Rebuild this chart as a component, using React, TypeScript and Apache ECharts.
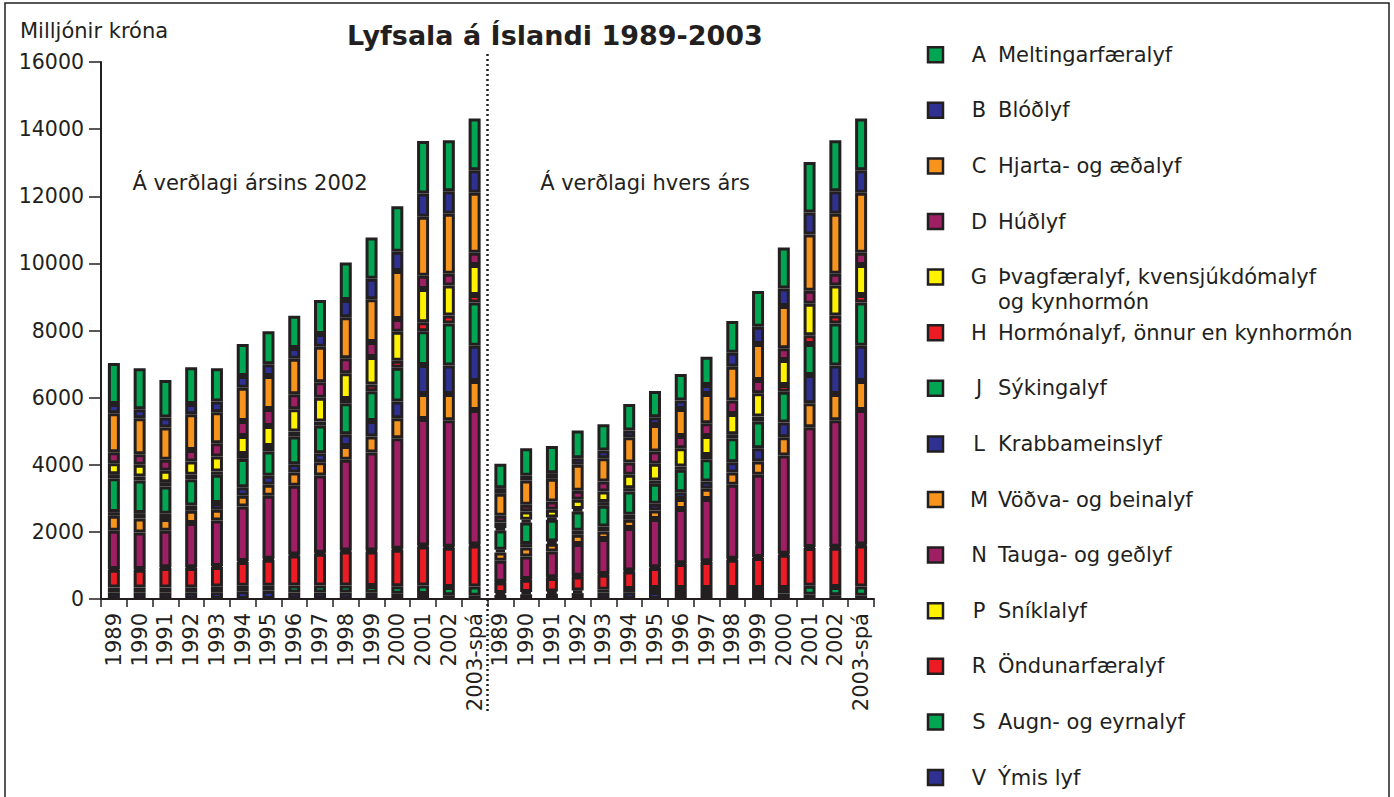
import React, { useEffect, useRef } from 'react';
import * as echarts from 'echarts';

// Categories: two groups of years (fixed 2002 prices, then current prices)
const years = ['1989', '1990', '1991', '1992', '1993', '1994', '1995', '1996', '1997', '1998', '1999', '2000', '2001', '2002', '2003-spá'];
const categories = [...years, ...years];

const yTicks = { min: 0, max: 16000, interval: 2000 };

// Series values (millions ISK), left group 15 values then right group 15 values
const A = [1218, 1221, 1121, 1092, 994, 950, 985, 960, 1012, 1122, 1230, 1360, 1565, 1517, 1539,
  724, 825, 812, 822, 785, 794, 783, 794, 842, 943, 1062, 1220, 1505, 1517, 1539];
const B = [277, 267, 298, 306, 316, 351, 349, 320, 377, 515, 611, 575, 697, 675, 675,
  169, 139, 170, 199, 227, 197, 229, 248, 268, 417, 515, 526, 656, 675, 675];
const C = [1160, 1072, 961, 1063, 922, 991, 982, 1059, 1060, 1220, 1275, 1428, 1756, 1785, 1781,
  655, 724, 675, 774, 696, 756, 794, 803, 872, 1011, 1071, 1259, 1678, 1785, 1781];
const D = [328, 318, 328, 348, 399, 446, 506, 447, 458, 446, 446, 378, 395, 354, 365,
  199, 199, 247, 268, 298, 366, 366, 366, 378, 396, 397, 348, 386, 354, 365];
const G = [327, 348, 336, 396, 447, 536, 595, 666, 714, 765, 823, 863, 991, 888, 899,
  167, 247, 230, 277, 315, 396, 497, 548, 566, 605, 696, 744, 936, 888, 899];
const H = [119, 119, 131, 128, 98, 149, 169, 149, 120, 128, 195, 208, 265, 240, 223,
  71, 80, 68, 71, 110, 101, 99, 98, 128, 119, 148, 200, 262, 240, 223];
const J = [1012, 971, 812, 785, 842, 842, 724, 821, 821, 923, 887, 1012, 1006, 1250, 1290,
  575, 643, 645, 574, 616, 693, 595, 664, 666, 714, 792, 922, 925, 1250, 1290];
const L = [110, 160, 158, 158, 199, 259, 267, 250, 268, 348, 467, 494, 863, 855, 1046,
  80, 101, 69, 119, 149, 149, 199, 208, 217, 309, 399, 435, 842, 855, 1046];
const M = [446, 417, 348, 366, 319, 318, 328, 396, 399, 416, 476, 596, 744, 780, 863,
  247, 268, 229, 277, 226, 247, 256, 298, 307, 366, 396, 547, 714, 780, 863];
const N = [1136, 1085, 1085, 1314, 1357, 1625, 1874, 2044, 2300, 2699, 2916, 3294, 3771, 3768, 4009,
  626, 674, 772, 944, 1038, 1267, 1433, 1611, 1850, 2202, 2449, 2926, 3571, 3768, 4009];
const P = [25, 25, 25, 25, 30, 30, 30, 30, 30, 30, 30, 30, 30, 30, 30,
  20, 20, 20, 20, 25, 25, 25, 25, 25, 30, 30, 30, 30, 30, 30];
const R = [532, 532, 583, 578, 577, 705, 774, 893, 943, 1012, 1027, 1087, 1165, 1170, 1220,
  315, 366, 399, 417, 446, 523, 596, 715, 774, 843, 893, 991, 1122, 1170, 1220];
const S = [153, 153, 153, 155, 175, 166, 149, 208, 208, 208, 205, 220, 250, 244, 277,
  60, 70, 70, 80, 90, 100, 120, 148, 148, 148, 148, 168, 268, 244, 277];
const V = [187, 187, 187, 190, 200, 230, 247, 197, 197, 197, 185, 160, 150, 113, 98,
  119, 138, 156, 176, 187, 198, 207, 179, 179, 179, 179, 159, 128, 113, 98];

const letters = ['A', 'B', 'C', 'D', 'G', 'H', 'J', 'L', 'M', 'N', 'P', 'R', 'S', 'V'];
const names = [
  'Meltingarfæralyf',
  'Blóðlyf',
  'Hjarta- og æðalyf',
  'Húðlyf',
  'Þvagfæralyf, kvensjúkdómalyf\nog kynhormón',
  'Hormónalyf, önnur en kynhormón',
  'Sýkingalyf',
  'Krabbameinslyf',
  'Vöðva- og beinalyf',
  'Tauga- og geðlyf',
  'Sníklalyf',
  'Öndunarfæralyf',
  'Augn- og eyrnalyf',
  'Ýmis lyf',
];
const values = [A, B, C, D, G, H, J, L, M, N, P, R, S, V];

const GREEN = '#00a651';
const BLUE = '#2e3192';
const ORANGE = '#f7941d';
const PURPLE = '#9e1f63';
const YELLOW = '#fff200';
const RED = '#ed1c24';
const colors = [GREEN, BLUE, ORANGE, PURPLE, YELLOW, RED, GREEN, BLUE, ORANGE, PURPLE, YELLOW, RED, GREEN, BLUE];

const title = 'Lyfsala á Íslandi 1989-2003';
const unitLabel = 'Milljónir króna';
const groupLabels = ['Á verðlagi ársins 2002', 'Á verðlagi hvers árs'];

const FONT = '"DejaVu Sans", sans-serif';
const INK = '#231f20';

export default function App() {
  const ref = useRef<HTMLDivElement>(null);

  useEffect(() => {
    const chart = echarts.init(ref.current!, null, { renderer: 'svg' });
    const order = letters.map((_, i) => letters.length - 1 - i); // bottom: V ... top: A
    const series = order.map((i) => ({
      name: letters[i],
      type: 'bar',
      stack: 'total',
      data: values[i],
      barWidth: 12,
      itemStyle: { color: colors[i], borderColor: INK, borderWidth: 3 },
      emphasis: { disabled: true },
    }));

    chart.setOption({
      animation: false,
      backgroundColor: '#fff',
      grid: { left: 101, right: 520, top: 62, bottom: 198 },
      xAxis: {
        type: 'category',
        data: categories,
        axisLine: { lineStyle: { color: INK, width: 2 } },
        axisTick: { show: true, length: 8, lineStyle: { color: INK, width: 1.5 } },
        axisLabel: { rotate: 90, interval: 0, margin: 14, color: INK, fontFamily: FONT, fontSize: 21 },
      },
      yAxis: {
        type: 'value',
        min: yTicks.min,
        max: yTicks.max,
        interval: yTicks.interval,
        splitLine: { show: false },
        axisLine: { show: true, lineStyle: { color: INK, width: 2 } },
        axisTick: { show: true, length: 12, lineStyle: { color: INK, width: 1.5 } },
        axisLabel: {
          margin: 17,
          color: INK,
          fontFamily: FONT,
          fontSize: 20.5,
          formatter: (v: number) => String(v),
        },
      },
      series,
    });

    const x14 = chart.convertToPixel({ xAxisIndex: 0 }, 14) as number;
    const x15 = chart.convertToPixel({ xAxisIndex: 0 }, 15) as number;
    const xSplit = (x14 + x15) / 2;
    const yTop = chart.convertToPixel({ yAxisIndex: 0 }, yTicks.max) as number;

    const graphics: any[] = [
      {
        type: 'rect',
        shape: { x: 5, y: 3, width: 1384, height: 900 },
        style: { fill: 'none', stroke: INK, lineWidth: 1.5 },
        silent: true,
      },
      {
        type: 'line',
        shape: { x1: xSplit, y1: yTop - 8, x2: xSplit, y2: 712 },
        style: { stroke: INK, lineWidth: 2.5, lineDash: [2, 3] },
        silent: true,
      },
      {
        type: 'text',
        x: 555,
        y: 35,
        style: { text: title, fill: INK, font: `bold 27px ${FONT}`, align: 'center', verticalAlign: 'middle' },
      },
      {
        type: 'text',
        x: 20,
        y: 31,
        style: { text: unitLabel, fill: INK, font: `21px ${FONT}`, align: 'left', verticalAlign: 'middle' },
      },
      {
        type: 'text',
        x: 250,
        y: 183,
        style: { text: groupLabels[0], fill: INK, font: `21px ${FONT}`, align: 'center', verticalAlign: 'middle' },
      },
      {
        type: 'text',
        x: 645,
        y: 183,
        style: { text: groupLabels[1], fill: INK, font: `21px ${FONT}`, align: 'center', verticalAlign: 'middle' },
      },
    ];

    letters.forEach((letter, i) => {
      const cy = 54.7 + i * 55.6;
      graphics.push({
        type: 'rect',
        shape: { x: 928, y: cy - 7.5, width: 15, height: 15 },
        style: { fill: colors[i], stroke: INK, lineWidth: 2.5 },
      });
      graphics.push({
        type: 'text',
        x: 979,
        y: cy,
        style: { text: letter, fill: INK, font: `21px ${FONT}`, align: 'center', verticalAlign: 'middle' },
      });
      graphics.push({
        type: 'text',
        x: 998,
        y: cy - 12.5,
        style: { text: names[i], fill: INK, font: `21px ${FONT}`, align: 'left', verticalAlign: 'top', lineHeight: 25 },
      });
    });

    chart.setOption({ graphic: graphics });

    return () => chart.dispose();
  }, []);

  return (
    <div
      ref={ref}
      style={{ position: 'fixed', left: 0, top: 0, width: 1394, height: 797, background: '#fff' }}
    />
  );
}
